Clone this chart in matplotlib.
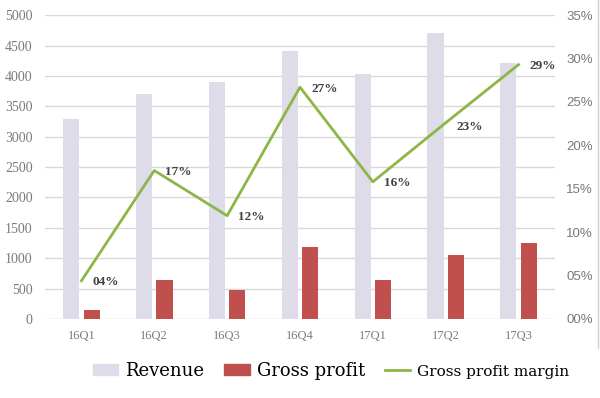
import matplotlib.pyplot as plt
from matplotlib.lines import Line2D
from matplotlib.patches import Patch
import numpy as np

quarters = ['16Q1', '16Q2', '16Q3', '16Q4', '17Q1', '17Q2', '17Q3']
revenue = [3290, 3700, 3900, 4410, 4030, 4700, 4220]
gross_profit = [150, 640, 470, 1180, 640, 1050, 1245]
margin = [0.044, 0.171, 0.119, 0.267, 0.158, 0.226, 0.293]
margin_labels = ['04%', '17%', '12%', '27%', '16%', '23%', '29%']
right_ticks = ['00%', '05%', '10%', '15%', '20%', '25%', '30%', '35%']

rev_color = '#DEDCE9'
gp_color = '#C0504D'
line_color = '#8DB646'
grid_color = '#D9D9D9'
tick_color = '#7A7A7A'

fig = plt.figure(figsize=(6, 3.98), dpi=100)
ax = fig.add_axes([0.075, 0.1985, 0.85, 0.7635])
x = np.arange(len(quarters))
w = 0.22
ax.bar(x - 0.14, revenue, w, color=rev_color, zorder=2)
ax.bar(x + 0.14, gross_profit, w, color=gp_color, zorder=2)
ax.set_xlim(-0.5, 6.5)
ax.set_ylim(0, 5000)
ax.set_yticks(range(0, 5001, 500))
ax.yaxis.grid(True, color=grid_color, lw=1, zorder=0)
ax.set_xticks(x)
ax.set_xticklabels(quarters)
for s in ax.spines.values():
    s.set_visible(False)
ax.tick_params(length=0, labelsize=9, labelcolor=tick_color, pad=8)
ax.tick_params(axis='y', labelsize=10, pad=9)
for lbl in ax.get_xticklabels() + ax.get_yticklabels():
    lbl.set_family('Liberation Serif')

ax2 = ax.twinx()
ax2.plot(x, margin, color=line_color, lw=2, zorder=3)
ax2.set_ylim(0, 0.35)
ax2.set_yticks(np.arange(0, 0.351, 0.05))
ax2.set_yticklabels(right_ticks)
for s in ax2.spines.values():
    s.set_visible(False)
ax2.tick_params(length=0, labelsize=9.5, labelcolor=tick_color, pad=8)
for lbl in ax2.get_yticklabels():
    lbl.set_family('Liberation Sans')

for i, (m, t) in enumerate(zip(margin, margin_labels)):
    dy = -3 if t == '23%' else -1
    ax2.annotate(t, (x[i], m), xytext=(8, dy), textcoords='offset points',
                 ha='left', va='center', fontsize=9.5, fontweight='bold',
                 color='#404040', family='Liberation Serif')

# thin frame line at the right edge of the chart area
fig.add_artist(Line2D([0.9967, 0.9967], [0.125, 1.0], transform=fig.transFigure,
                      color='#D0D0D0', lw=1))

handles = [Patch(color=rev_color), Patch(color=gp_color),
           Line2D([], [], color=line_color, lw=2)]
leg = fig.legend(handles, ['Revenue', 'Gross profit', 'Gross profit margin'],
                 loc='center', bbox_to_anchor=(0.552, 0.068), ncol=3,
                 frameon=False, handlelength=1.4, handleheight=0.55,
                 columnspacing=1.1, handletextpad=0.4,
                 prop={'family': 'DejaVu Serif', 'size': 13})
leg.get_texts()[2].set_fontsize(11)

fig.savefig('out.png', dpi=100)
